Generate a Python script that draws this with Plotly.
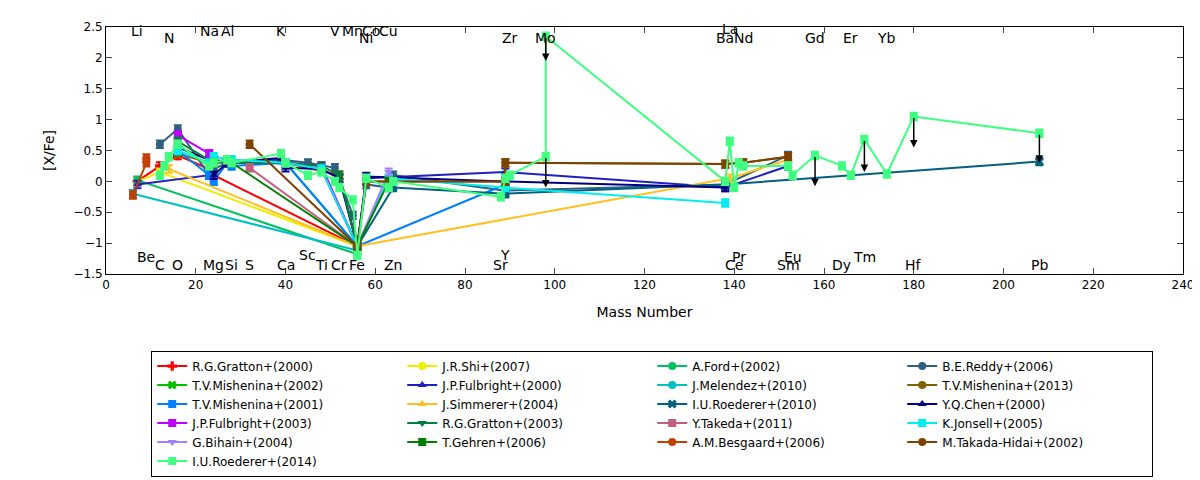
import plotly.graph_objects as go

# element labels: (name, mass, y-position)
elem_names = ['Li', 'N', 'Na', 'Al', 'K', 'V', 'Mn', 'Co', 'Ni', 'Cu', 'Zr', 'Mo', 'La', 'Ba', 'Nd', 'Gd', 'Er', 'Yb',
              'Be', 'C', 'O', 'Mg', 'Si', 'S', 'Ca', 'Sc', 'Ti', 'Cr', 'Fe', 'Zn', 'Y', 'Sr', 'Pr', 'Ce', 'Eu', 'Sm',
              'Dy', 'Tm', 'Hf', 'Pb']
elem_mass = [7, 14, 23, 27, 39, 51, 55, 59, 58, 63, 90, 98, 139, 138, 142, 158, 166, 174,
             9, 12, 16, 24, 28, 32, 40, 45, 48, 52, 56, 64, 89, 88, 141, 140, 153, 152,
             164, 169, 180, 208]
elem_y = [2.43, 2.33, 2.43, 2.43, 2.43, 2.43, 2.43, 2.43, 2.33, 2.43, 2.33, 2.33, 2.47, 2.33, 2.33, 2.33, 2.33, 2.33,
          -1.22, -1.36, -1.36, -1.36, -1.36, -1.36, -1.36, -1.2, -1.36, -1.36, -1.36, -1.36, -1.2, -1.36, -1.22, -1.36,
          -1.22, -1.36, -1.36, -1.22, -1.36, -1.36]

names = ['R.G.Gratton+(2000)', 'T.V.Mishenina+(2002)', 'T.V.Mishenina+(2001)', 'J.P.Fulbright+(2003)',
         'K.Jonsell+(2005)', 'A.M.Besgaard+(2006)', 'J.R.Shi+(2007)', 'J.P.Fulbright+(2000)',
         'J.Simmerer+(2004)', 'R.G.Gratton+(2003)', 'G.Bihain+(2004)', 'M.Takada-Hidai+(2002)',
         'A.Ford+(2002)', 'J.Melendez+(2010)', 'I.U.Roederer+(2010)', 'Y.Takeda+(2011)',
         'T.Gehren+(2006)', 'I.U.Roederer+(2014)', 'B.E.Reddy+(2006)', 'T.V.Mishenina+(2013)', 'Y.Q.Chen+(2000)']
colors = ['#ff0000', '#00c000', '#0080ff', '#c000ff', '#00eeee', '#c04000', '#eeee00', '#2020c0',
          '#ffc020', '#008040', '#a080ff', '#804000', '#00c060', '#00c0c0', '#006080', '#c06080',
          '#008000', '#40ff80', '#306080', '#806000', '#000080']
symbols = ['cross', 'x', 'square', 'square', 'square', 'circle', 'circle', 'triangle-up',
           'triangle-up', 'triangle-down', 'triangle-down', 'circle', 'circle', 'circle', 'x', 'square',
           'square', 'square', 'circle', 'circle', 'triangle-up']

mass = [
    [7, 12, 16, 23, 24, 56],
    [16, 23, 24, 27, 28, 40, 56],
    [16, 23, 24, 27, 28, 40, 56, 89],
    [16, 23, 24, 27, 28, 40, 48, 56],
    [16, 23, 24, 28, 40, 48, 56, 63, 89, 138],
    [6, 9, 9],
    [7, 12, 56],
    [7, 23, 24, 28, 40, 48, 56, 58, 89, 138, 152],
    [14, 56, 139, 152],
    [16, 24, 28, 40, 48, 52, 56],
    [56, 63],
    [32, 56, 58, 89, 89, 138, 142, 152],
    [7, 56],
    [6, 56],
    [56, 64, 89, 138, 208],
    [32, 56],
    [24, 27, 56, 63],
    [12, 13, 14, 16, 23, 24, 27, 28, 39, 40, 45, 48, 51, 52, 55, 56, 58, 63, 64, 88, 89, 90, 98, 98,
     138, 139, 140, 141, 142, 152, 153, 158, 164, 166, 169, 174, 180, 208],
    [12, 16, 23, 24, 27, 39, 45, 51, 52, 55, 56, 58, 63, 64, 89, 138, 152],
    [16, 23, 27, 40, 52, 56, 58, 63, 89, 89, 138, 142, 152],
    [16, 23, 24, 27, 39, 40, 48, 52, 56, 58, 89, 138],
]
xfe = [
    [0.0, 0.25, 0.42, 0.2, 0.1, -1.05],
    [0.6, 0.25, 0.3, 0.35, 0.3, 0.3, -1.05],
    [0.5, 0.1, 0.0, 0.3, 0.25, 0.3, -1.05, -0.05],
    [0.75, 0.45, 0.3, 0.35, 0.3, 0.3, 0.25, -1.05],
    [0.5, 0.3, 0.4, 0.35, 0.3, 0.2, -1.05, 0.05, -0.1, -0.35],
    [-0.22, 0.3, 0.38],
    [0.0, 0.15, -1.05],
    [-0.05, 0.1, 0.35, 0.3, 0.3, 0.2, -1.05, 0.05, 0.15, -0.1, 0.25],
    [0.2, -1.05, 0.05, 0.35],
    [0.65, 0.3, 0.3, 0.3, 0.25, 0.1, -1.05],
    [-1.05, 0.15],
    [0.6, -1.05, 0.0, 0.0, 0.3, 0.28, 0.3, 0.4],
    [0.02, -1.18],
    [-0.2, -1.12],
    [-1.05, -0.1, -0.2, -0.05, 0.32],
    [0.22, -1.05],
    [0.3, 0.35, -1.05, 0.0],
    [0.1, 0.25, 0.4, 0.6, 0.25, 0.3, 0.35, 0.3, 0.45, 0.3, 0.1, 0.15, 0.0, -0.1, -0.3, -1.2, 0.05, -0.1,
     0.0, -0.25, 0.05, 0.1, 0.4, 2.35, 0.0, 0.65, -0.1, 0.3, 0.25, 0.25, 0.1, 0.42, 0.25, 0.1, 0.68,
     0.12, 1.05, 0.78],
    [0.6, 0.85, 0.1, 0.2, 0.3, 0.35, 0.3, 0.22, 0.05, -0.55, -1.05, -0.05, -0.1, 0.1, -0.15, -0.05, 0.42],
    [0.45, 0.3, 0.35, 0.3, 0.1, -1.05, 0.0, 0.0, 0.0, 0.3, 0.28, 0.3, 0.4],
    [0.55, 0.35, 0.1, 0.3, 0.38, 0.22, 0.2, 0.05, -1.05, 0.08, 0.0, -0.1],
]

# upper limits (Roederer 2014): arrow start and end
lim_mass = [98, 98, 158, 169, 180, 208]
lim_top = [2.35, 0.4, 0.42, 0.68, 1.05, 0.78]
lim_bot = [1.95, -0.1, -0.08, 0.15, 0.55, 0.3]

fig = go.Figure()

# legend is filled row by row, reference fills columns: reorder
cols = [list(range(0, 6)), list(range(6, 12)), list(range(12, 18)), list(range(18, 21))]
order = []
for r in range(6):
    for c in cols:
        if r < len(c):
            order.append(c[r])

for i in order:
    fig.add_trace(go.Scatter(
        x=mass[i], y=xfe[i], mode='lines+markers', name=names[i],
        line=dict(color=colors[i], width=2),
        marker=dict(symbol=symbols[i], size=8, color=colors[i]),
        error_y=dict(type='constant', value=0.06, color=colors[i], thickness=2, width=4),
    ))

for m, t, b in zip(lim_mass, lim_top, lim_bot):
    fig.add_annotation(x=m, y=b, ax=m, ay=t, xref='x', yref='y', axref='x', ayref='y',
                       showarrow=True, arrowhead=2, arrowsize=1, arrowwidth=1.5, arrowcolor='black', text='')

for n, m, yy in zip(elem_names, elem_mass, elem_y):
    fig.add_annotation(x=m, y=yy, text=n, showarrow=False, font=dict(size=14, color='black'))

fig.update_xaxes(range=[0, 240], dtick=20, ticks='inside', mirror='allticks', showline=True,
                 linecolor='black', showgrid=False, zeroline=False, title='Mass Number', ticklen=6)
fig.update_yaxes(range=[-1.5, 2.5], dtick=0.5, ticks='inside', mirror='allticks', showline=True,
                 linecolor='black', showgrid=False, zeroline=False, title='[X/Fe]', ticklen=6)
fig.update_layout(
    width=1200, height=480, plot_bgcolor='white', paper_bgcolor='white',
    font=dict(family='DejaVu Sans', size=12, color='black'),
    margin=dict(l=98, r=25, t=17, b=207),
    legend=dict(orientation='h', x=0.042, y=-0.31, xanchor='left', yanchor='top',
                entrywidth=205, entrywidthmode='pixels', bordercolor='black', borderwidth=1,
                font=dict(size=12), tracegroupgap=0),
)
fig.write_html("out.html")
